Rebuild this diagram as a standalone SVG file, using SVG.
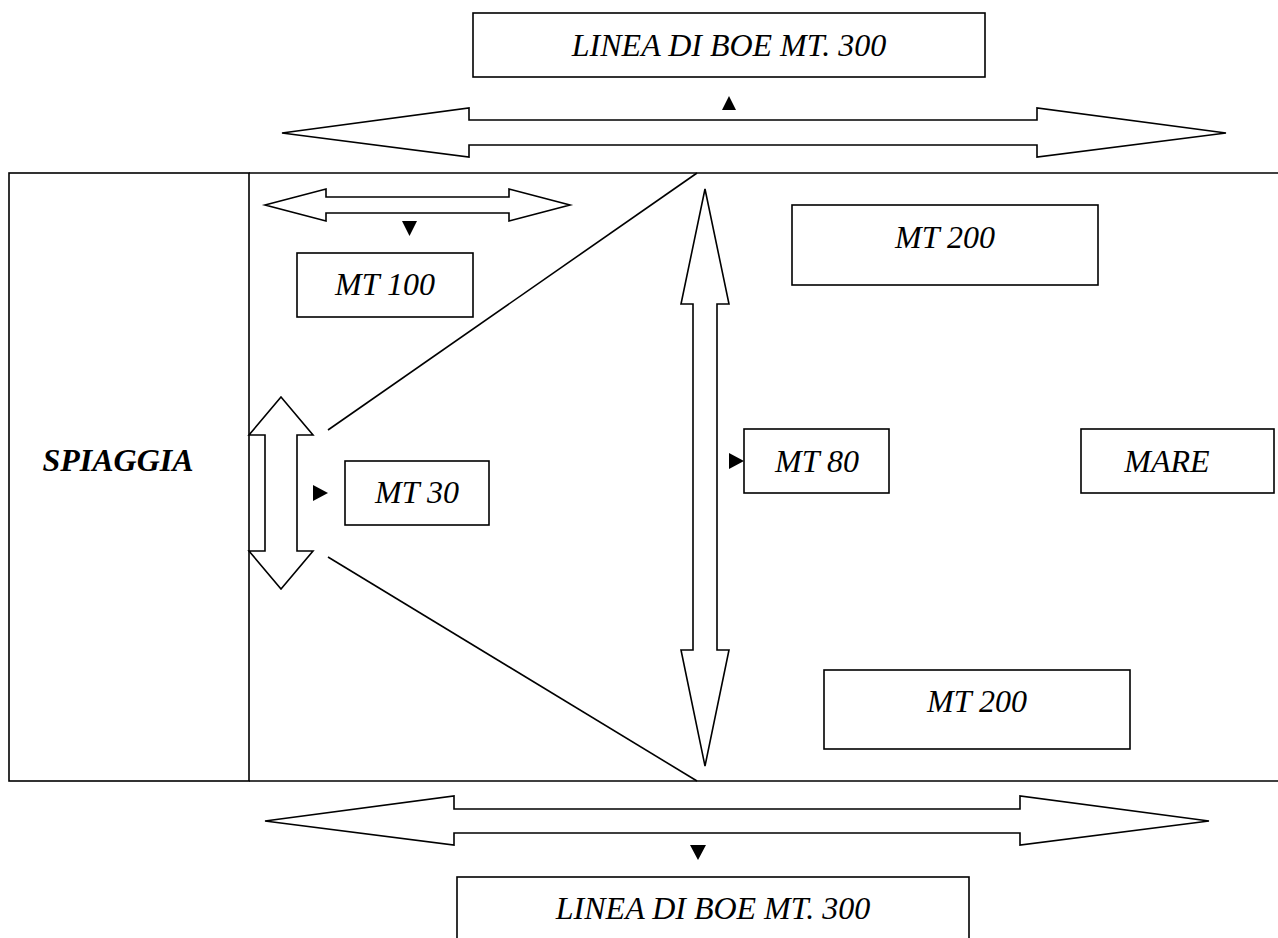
<svg xmlns="http://www.w3.org/2000/svg" width="1278" height="938" viewBox="0 0 1278 938">
<style>
.box{fill:#fff;stroke:#000;stroke-width:1.6}
.ln{fill:none;stroke:#000;stroke-width:1.6}
.arr{fill:#fff;stroke:#000;stroke-width:1.6;stroke-linejoin:miter}
.tri{fill:#000;stroke:none}
.t{font-family:"Liberation Serif","Times New Roman",serif;font-size:32px;font-style:italic;text-anchor:middle;fill:#000}
.tb{font-weight:bold}
</style>
<rect width="1278" height="938" fill="#fff"/>
<g id="frame">
<rect class="ln" x="9" y="173" width="240" height="608"/>
<line class="ln" x1="249" y1="173" x2="1280" y2="173"/>
<line class="ln" x1="249" y1="781" x2="1280" y2="781"/>
</g>
<g id="spiaggia">
<text class="t tb" x="118" y="471">SPIAGGIA</text>
</g>
<g id="connectors">
<line class="ln" x1="697" y1="173" x2="328" y2="430"/>
<line class="ln" x1="328" y1="557" x2="697" y2="781"/>
<polygon class="arr" points="282,133 469,108 469,120 1037,120 1037,108 1226,133 1037,157 1037,145 469,145 469,157"/>
<polygon class="arr" points="265,821 454,796 454,809 1020,809 1020,796 1209,821 1020,845 1020,833 454,833 454,845"/>
<polygon class="arr" points="265,205 326,189 326,197 509,197 509,189 570,205 509,221 509,213 326,213 326,221"/>
<polygon class="arr" points="705,189 729,304 717,304 717,650 729,650 705,766 681,650 693,650 693,304 681,304"/>
<polygon class="arr" points="281,397 313,435 297,435 297,551 313,551 281,589 249,551 265,551 265,435 249,435"/>
<polygon class="tri" points="729,96 736,110 722,110"/>
<polygon class="tri" points="402,221 417,221 409.5,236"/>
<polygon class="tri" points="690,845 706,845 698,860"/>
<polygon class="tri" points="313,485 328,493 313,501"/>
<polygon class="tri" points="729,453 744,461 729,469"/>
</g>
<g id="boe-top">
<rect class="box" x="473" y="13" width="512" height="64"/>
<text class="t" x="729" y="56">LINEA DI BOE MT. 300</text>
</g>
<g id="mt100">
<rect class="box" x="297" y="253" width="176" height="64"/>
<text class="t" x="385" y="295">MT 100</text>
</g>
<g id="mt30">
<rect class="box" x="345" y="461" width="144" height="64"/>
<text class="t" x="417" y="503">MT 30</text>
</g>
<g id="mt200-top">
<rect class="box" x="792" y="205" width="306" height="80"/>
<text class="t" x="945" y="248">MT 200</text>
</g>
<g id="mt80">
<rect class="box" x="744" y="429" width="145" height="64"/>
<text class="t" x="817" y="472">MT 80</text>
</g>
<g id="mare">
<rect class="box" x="1081" y="429" width="193" height="64"/>
<text class="t" x="1167" y="472">MARE</text>
</g>
<g id="mt200-bottom">
<rect class="box" x="824" y="670" width="306" height="79"/>
<text class="t" x="977" y="712">MT 200</text>
</g>
<g id="boe-bottom">
<rect class="box" x="457" y="877" width="512" height="70"/>
<text class="t" x="713" y="919">LINEA DI BOE MT. 300</text>
</g>
</svg>
